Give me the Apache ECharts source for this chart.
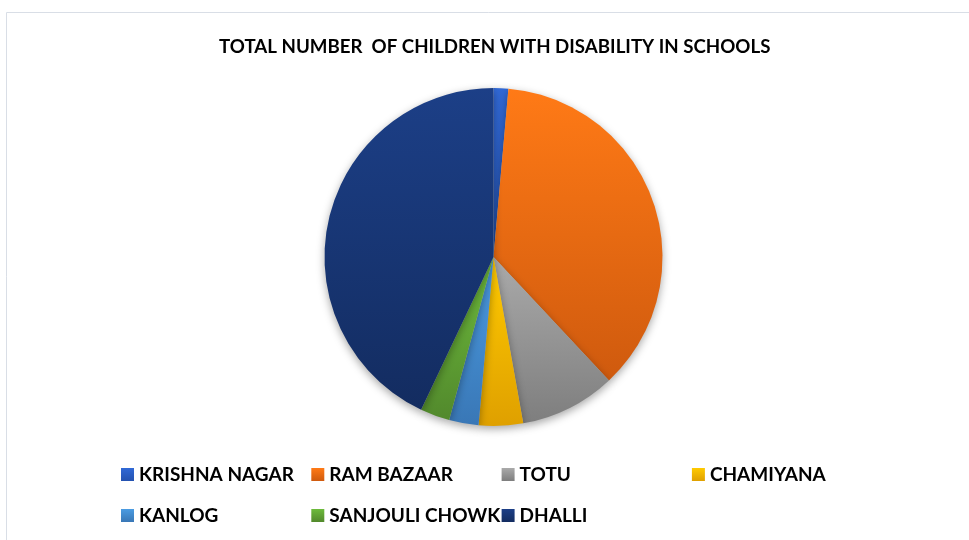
<!DOCTYPE html>
<html>
<head>
<meta charset="utf-8">
<script src="https://cdn.jsdelivr.net/npm/echarts@6/dist/echarts.min.js"></script>
<style>html,body{margin:0;padding:0;background:#fff;}#c{width:969px;height:540px;}</style>
</head>
<body>
<div id="c"></div>
<script>
var categories = ['KRISHNA NAGAR', 'RAM BAZAAR', 'TOTU', 'CHAMIYANA', 'KANLOG', 'SANJOULI CHOWK', 'DHALLI'];
var values = [2, 52, 13, 6, 4, 4, 61];
var topColors = ['#3169D6', '#FF7A16', '#AAAAAA', '#FFCA00', '#4B9CE2', '#6DBB3C', '#1C3F87'];
var bottomColors = ['#2452B0', '#CF5A0E', '#7E7E7E', '#DFA000', '#3977B6', '#52892C', '#132C60'];
var title = 'TOTAL NUMBER  OF CHILDREN WITH DISABILITY IN SCHOOLS';

var chart = echarts.init(document.getElementById('c'), null, {renderer: 'canvas'});
function grad(i) {
  return new echarts.graphic.LinearGradient(0, 0, 0, 1, [
    {offset: 0, color: topColors[i]}, {offset: 1, color: bottomColors[i]}
  ]);
}
var data = categories.map(function (n, i) {
  return {name: n, value: values[i], itemStyle: {color: grad(i)}};
});
var legendFont = {fontFamily: 'Lato', fontWeight: 'bold', fontSize: 19, color: '#000'};
var legends = categories.map(function (n, i) {
  var col = i < 4 ? i : i - 4;
  var row = i < 4 ? 0 : 1;
  return {
    data: [n], left: 121 + col * 190.3, top: row === 0 ? 465 : 506,
    padding: 0, itemWidth: 13, itemHeight: 13, itemGap: 0, icon: 'rect',
    textStyle: legendFont, selectedMode: false
  };
});
chart.setOption({
  animation: false,
  backgroundColor: '#fff',
  title: {
    text: title, left: 219, top: 37, padding: 0,
    textStyle: {fontFamily: 'Lato', fontWeight: 'bold', fontSize: 18.7, color: '#000'}
  },
  graphic: [{
    type: 'rect', shape: {x: 6.5, y: 12.5, width: 1000, height: 600},
    style: {fill: 'none', stroke: '#D9DEE6', lineWidth: 1}, silent: true, z: -1
  }],
  legend: legends,
  series: [{
    type: 'pie', center: [493.5, 257], radius: 169, startAngle: 90, clockwise: true,
    label: {show: false}, labelLine: {show: false}, silent: true,
    itemStyle: {shadowBlur: 8, shadowOffsetY: 3, shadowColor: 'rgba(0,0,0,0.35)'},
    data: data
  }]
});
</script>
</body>
</html>
